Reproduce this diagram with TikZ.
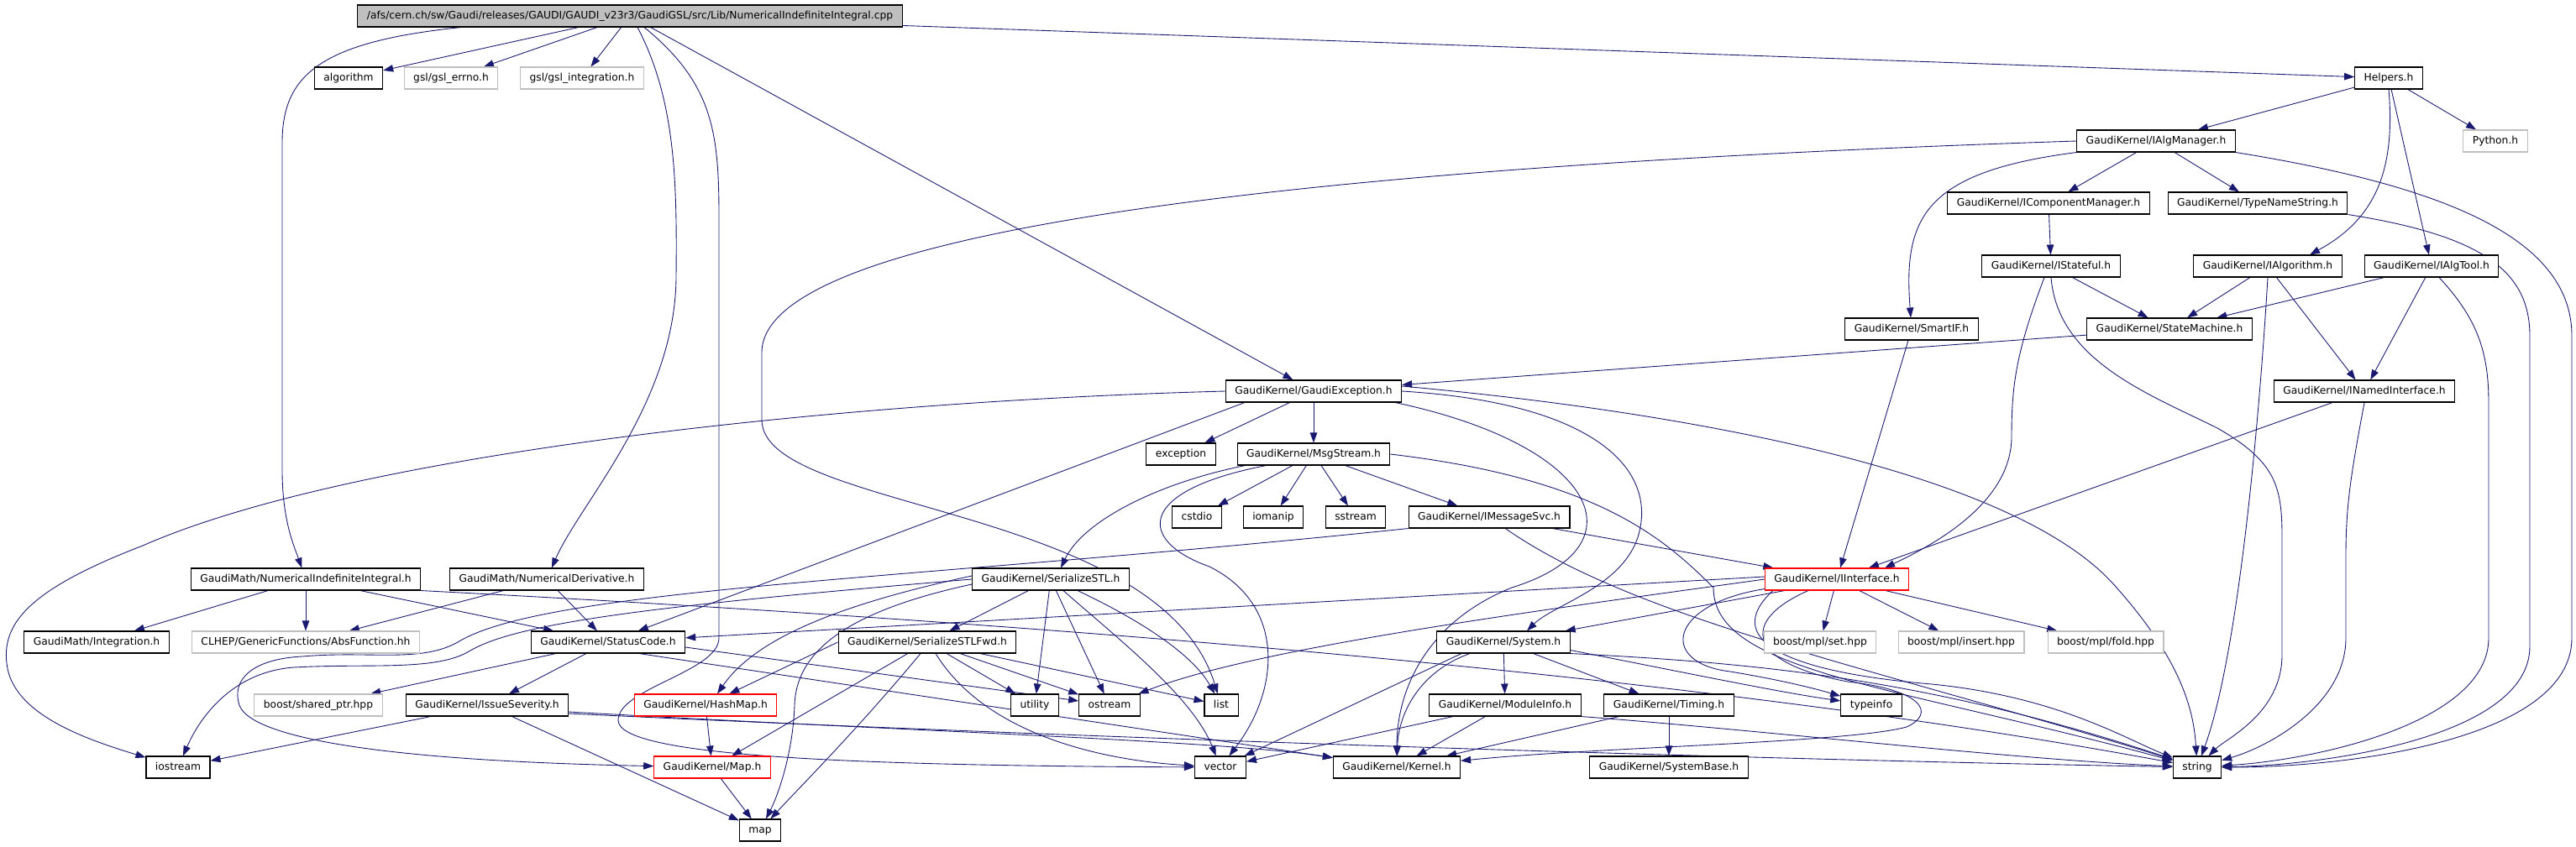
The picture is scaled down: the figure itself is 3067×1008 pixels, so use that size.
\documentclass[tikz,border=0pt]{standalone}
\usepackage{fontspec}
\setmainfont{DejaVu Sans}
\usetikzlibrary{arrows.meta,calc}
\definecolor{DoxEdge}{HTML}{191970}
\definecolor{DoxGrey}{HTML}{BFBFBF}
\definecolor{DoxRed}{HTML}{FF0000}
\pgfdeclarelayer{back}
\pgfdeclarelayer{wires}
\pgfsetlayers{back,wires,main}
\tikzset{
  inc/.style={draw=black,fill=white,line width=0.6pt,inner xsep=0.22cm,inner ysep=0pt,minimum height=0.52cm,text height=5.3pt,text depth=1.5pt,font=\fontsize{7}{8}\selectfont},
  extinc/.style={inc,draw=DoxGrey},
  badinc/.style={inc,draw=DoxRed},
  dep/.style={DoxEdge,line width=0.5pt,-{Triangle[length=0.24cm,width=0.17cm]}}
}
\begin{document}
\begin{tikzpicture}[x=0.02cm,y=-0.02cm]
\useasboundingbox (0,0) rectangle (3067,1008);
\begin{pgfonlayer}{back}
\fill[white] (0,0) rectangle (3067,1008);
\end{pgfonlayer}
\node[inc,fill=DoxGrey] (root) at (750,19) {/afs/cern.ch/sw/Gaudi/releases/GAUDI/GAUDI\_v23r3/GaudiGSL/src/Lib/NumericalIndefiniteIntegral.cpp};
\node[inc] (algorithm) at (415,93) {algorithm};
\node[extinc] (gslerrno) at (537,93) {gsl/gsl\_errno.h};
\node[extinc] (gslint) at (693,93) {gsl/gsl\_integration.h};
\node[inc] (helpers) at (2844,93) {Helpers.h};
\node[inc] (ialgmgr) at (2567,168) {GaudiKernel/IAlgManager.h};
\node[extinc] (python) at (2971,168) {Python.h};
\node[inc] (icompmgr) at (2439,242) {GaudiKernel/IComponentManager.h};
\node[inc] (typename) at (2688,242) {GaudiKernel/TypeNameString.h};
\node[inc] (istateful) at (2442,317) {GaudiKernel/IStateful.h};
\node[inc] (ialgo) at (2700,317) {GaudiKernel/IAlgorithm.h};
\node[inc] (ialgtool) at (2895,317) {GaudiKernel/IAlgTool.h};
\node[inc] (smartif) at (2276,392) {GaudiKernel/SmartIF.h};
\node[inc] (statemach) at (2583,392) {GaudiKernel/StateMachine.h};
\node[inc] (gexc) at (1564,466) {GaudiKernel/GaudiException.h};
\node[inc] (inamed) at (2815,466) {GaudiKernel/INamedInterface.h};
\node[inc] (exception) at (1406,541) {exception};
\node[inc] (msgstream) at (1564,541) {GaudiKernel/MsgStream.h};
\node[inc] (cstdio) at (1425,616) {cstdio};
\node[inc] (iomanip) at (1516,616) {iomanip};
\node[inc] (sstream) at (1614,616) {sstream};
\node[inc] (imsgsvc) at (1773,616) {GaudiKernel/IMessageSvc.h};
\node[inc] (numint) at (364,690) {GaudiMath/NumericalIndefiniteIntegral.h};
\node[inc] (numder) at (651,690) {GaudiMath/NumericalDerivative.h};
\node[inc] (serstl) at (1251,690) {GaudiKernel/SerializeSTL.h};
\node[badinc] (iiface) at (2187,690) {GaudiKernel/IInterface.h};
\node[inc] (integration) at (115,765) {GaudiMath/Integration.h};
\node[extinc] (absfunc) at (364,765) {CLHEP/GenericFunctions/AbsFunction.hh};
\node[inc] (statuscode) at (724,765) {GaudiKernel/StatusCode.h};
\node[inc] (serfwd) at (1104,765) {GaudiKernel/SerializeSTLFwd.h};
\node[inc] (system) at (1790,765) {GaudiKernel/System.h};
\node[extinc] (mplset) at (2167,765) {boost/mpl/set.hpp};
\node[extinc] (mplinsert) at (2335,765) {boost/mpl/insert.hpp};
\node[extinc] (mplfold) at (2507,765) {boost/mpl/fold.hpp};
\node[extinc] (sharedptr) at (379,840) {boost/shared\_ptr.hpp};
\node[inc] (issuesev) at (580,840) {GaudiKernel/IssueSeverity.h};
\node[badinc] (hashmap) at (840,840) {GaudiKernel/HashMap.h};
\node[inc] (utility) at (1232,840) {utility};
\node[inc] (ostream) at (1321,840) {ostream};
\node[inc] (list) at (1454,840) {list};
\node[inc] (modinfo) at (1792,840) {GaudiKernel/ModuleInfo.h};
\node[inc] (timing) at (1987,840) {GaudiKernel/Timing.h};
\node[inc] (typeinfo) at (2228,840) {typeinfo};
\node[inc] (iostream) at (212,914) {iostream};
\node[badinc] (gmap) at (848,914) {GaudiKernel/Map.h};
\node[inc] (vector) at (1453,914) {vector};
\node[inc] (kernel) at (1663,914) {GaudiKernel/Kernel.h};
\node[inc] (sysbase) at (1987,914) {GaudiKernel/SystemBase.h};
\node[inc] (string) at (2616,914) {string};
\node[inc] (stdmap) at (905,989) {map};
\begin{pgfonlayer}{wires}
\draw[dep] (root) -- (algorithm);
\draw[dep] (root) -- (gslerrno);
\draw[dep] (root) -- (gslint);
\draw[dep] (root) -- (helpers);
\draw[dep] (root) -- (gexc);
\draw[dep] ($(root.south)+(-201,0)$) .. controls (380,50) and (336,90) .. (336,170) -- (336,560) .. controls (336,620) and (350,650) .. (numint);
\draw[dep] ($(root.south)+(9,0)$) .. controls (805,120) and (806,220) .. (805,330) .. controls (804,480) and (690,600) .. (numder);
\draw[dep] ($(root.south)+(17,0)$) .. controls (850,100) and (856,160) .. (856,260) -- (856,760) .. controls (856,800) and (736,820) .. (736,858) .. controls (736,900) and (1000,912) .. (vector);
\draw[dep] (helpers) -- (ialgmgr);
\draw[dep] (helpers) -- (python);
\draw[dep] (helpers) -- (ialgtool);
\draw[dep] (helpers.south) .. controls (2852,200) and (2830,260) .. ($(ialgo.north)+(50,0)$);
\draw[dep] (ialgmgr) -- (icompmgr);
\draw[dep] (ialgmgr) -- (typename);
\draw[dep] (ialgmgr.south west) .. controls (2290,205) and (2266,260) .. (smartif);
\draw[dep] (ialgmgr.south east) .. controls (2900,220) and (3062,280) .. (3062,400) -- (3062,760) .. controls (3062,880) and (2800,914) .. (string);
\draw[dep] (ialgmgr.west) .. controls (1500,200) and (907,280) .. (907,420) -- (907,500) .. controls (907,610) and (1380,600) .. (list);
\draw[dep] (icompmgr) -- (istateful);
\draw[dep] (typename.south east) .. controls (2950,280) and (3012,320) .. (3012,400) -- (3012,770) .. controls (3012,880) and (2760,912) .. (string);
\draw[dep] (istateful) -- (statemach);
\draw[dep] ($(istateful.south)+(-8,0)$) .. controls (2400,420) and (2395,460) .. (2395,520) .. controls (2395,600) and (2300,650) .. ($(iiface.north)+(57,0)$);
\draw[dep] (istateful.south) .. controls (2450,430) and (2560,470) .. (2640,510) .. controls (2710,550) and (2717,580) .. (2717,640) -- (2717,780) .. controls (2717,850) and (2650,880) .. (string);
\draw[dep] (ialgo) -- (statemach);
\draw[dep] (ialgo) -- (inamed);
\draw[dep] (ialgo.south) .. controls (2690,500) and (2665,780) .. (string);
\draw[dep] (ialgtool) -- (statemach);
\draw[dep] (ialgtool) -- (inamed);
\draw[dep] ($(ialgtool.south)+(9,0)$) .. controls (2950,380) and (2963,420) .. (2963,480) -- (2963,760) .. controls (2963,860) and (2760,905) .. (string);
\draw[dep] (smartif) -- (iiface);
\draw[dep] (statemach) -- (gexc);
\draw[dep] (inamed) -- (iiface);
\draw[dep] (inamed.south) .. controls (2800,560) and (2793,600) .. (2793,660) -- (2793,760) .. controls (2793,840) and (2700,890) .. (string);
\draw[dep] (gexc.west) .. controls (1000,478) and (420,540) .. (170,650) .. controls (40,700) and (2,740) .. (8,790) .. controls (14,850) and (100,880) .. (iostream);
\draw[dep] (gexc) -- (exception);
\draw[dep] (gexc) -- (msgstream);
\draw[dep] ($(gexc.south west)+(23,0)$) -- (statuscode);
\draw[dep] ($(gexc.south east)+(-8,0)$) .. controls (1900,530) and (1960,650) .. (1800,700) .. controls (1700,740) and (1663,820) .. (kernel);
\draw[dep] (gexc.east) .. controls (1900,480) and (1975,560) .. (1950,640) .. controls (1930,700) and (1850,720) .. ($(system.north)+(28,0)$);
\draw[dep] ($(gexc.east)+(0,-6)$) .. controls (2000,490) and (2400,560) .. (2520,700) .. controls (2600,790) and (2612,850) .. (string);
\draw[dep] (msgstream) -- (cstdio);
\draw[dep] (msgstream) -- (iomanip);
\draw[dep] (msgstream) -- (sstream);
\draw[dep] (msgstream) -- (imsgsvc);
\draw[dep] ($(msgstream.south west)+(10,0)$) .. controls (1380,575) and (1290,620) .. ($(serstl.north)+(12,0)$);
\draw[dep] ($(msgstream.south west)+(35,0)$) .. controls (1350,585) and (1355,645) .. (1440,675) .. controls (1530,720) and (1525,820) .. (vector);
\draw[dep] (msgstream.east) .. controls (1900,570) and (1980,640) .. (2040,700) .. controls (2040,800) and (2250,815) .. (string);
\draw[dep] (imsgsvc) -- (iiface);
\draw[dep] (imsgsvc.south west) .. controls (1100,690) and (650,700) .. (545,765) .. controls (500,790) and (440,775) .. (360,782) .. controls (300,785) and (275,810) .. (285,840) .. controls (295,870) and (400,905) .. (gmap);
\draw[dep] (imsgsvc) .. controls (1950,740) and (2250,800) .. (string);
\draw[dep] (serstl) -- (serfwd);
\draw[dep] (serstl) -- (utility);
\draw[dep] (serstl) -- (ostream);
\draw[dep] ($(serstl.south)+(15,0)$) .. controls (1330,760) and (1420,830) .. (vector);
\draw[dep] ($(serstl.south)+(32,0)$) .. controls (1360,740) and (1420,780) .. (list);
\draw[dep] (serstl.west) .. controls (800,720) and (620,740) .. (560,775) .. controls (520,800) and (440,790) .. (350,795) .. controls (280,800) and (240,850) .. (iostream);
\draw[dep] ($(serstl.west)+(0,-4)$) .. controls (1000,720) and (900,760) .. ($(hashmap.north)+(14,0)$);
\draw[dep] ($(serstl.west)+(0,6)$) .. controls (1000,730) and (948,780) .. (946,840) .. controls (944,900) and (925,950) .. (stdmap);
\draw[dep] (serfwd.west) -- (hashmap);
\draw[dep] (serfwd) -- (gmap);
\draw[dep] ($(serfwd.south)+(-8,0)$) .. controls (1020,870) and (950,940) .. (stdmap);
\draw[dep] ($(serfwd.south)+(10,0)$) .. controls (1170,870) and (1300,905) .. (vector);
\draw[dep] (serfwd) -- (utility);
\draw[dep] (serfwd) -- (ostream);
\draw[dep] (serfwd) -- (list);
\draw[dep] (hashmap) -- (gmap);
\draw[dep] (gmap) -- (stdmap);
\draw[dep] (statuscode) -- (sharedptr);
\draw[dep] (statuscode) -- (issuesev);
\draw[dep] ($(statuscode.east)+(0,6)$) -- (ostream);
\draw[dep] ($(statuscode.south east)+(-55,0)$) -- (kernel);
\draw[dep] (issuesev) -- (iostream);
\draw[dep] (issuesev) -- (stdmap);
\draw[dep] ($(issuesev.east)+(0,8)$) .. controls (1100,872) and (1450,882) .. (kernel);
\draw[dep] ($(issuesev.east)+(0,10)$) .. controls (1300,880) and (2100,905) .. (string);
\draw[dep] (numint) -- (integration);
\draw[dep] (numint) -- (absfunc);
\draw[dep] (numint) -- (statuscode);
\draw[dep] (numint.south east) .. controls (1200,740) and (2000,800) .. (string);
\draw[dep] (numder) -- (absfunc);
\draw[dep] (numder) -- (statuscode);
\draw[dep] (iiface) -- (mplset);
\draw[dep] (iiface) -- (mplinsert);
\draw[dep] (iiface) -- (mplfold);
\draw[dep] ($(iiface.west)+(0,-3)$) -- (statuscode);
\draw[dep] ($(iiface.south west)+(24,0)$) -- (system);
\draw[dep] (iiface.west) .. controls (1850,725) and (1500,770) .. (ostream);
\draw[dep] ($(iiface.south west)+(0,-2)$) .. controls (1985,720) and (1975,790) .. (2060,800) .. controls (2120,810) and (2160,820) .. (typeinfo);
\draw[dep] ($(iiface.south)+(-34,0)$) .. controls (2070,740) and (2080,790) .. (2200,812) .. controls (2290,822) and (2305,850) .. (2270,866) .. controls (2200,885) and (1900,890) .. (kernel);
\draw[dep] ($(iiface.south west)+(10,0)$) .. controls (2050,760) and (2120,800) .. (2300,815) .. controls (2450,830) and (2530,880) .. (string);
\draw[dep] (system) -- (modinfo);
\draw[dep] (system) -- (timing);
\draw[dep] ($(system.south)+(-40,0)$) .. controls (1690,800) and (1665,850) .. (kernel);
\draw[dep] ($(system.south)+(-50,0)$) -- (vector);
\draw[dep] (system.south east) .. controls (2100,790) and (2300,810) .. (string);
\draw[dep] ($(system.south east)+(0,-4)$) .. controls (2000,800) and (2120,825) .. (typeinfo);
\draw[dep] (modinfo) -- (vector);
\draw[dep] (modinfo) -- (kernel);
\draw[dep] (modinfo.south east) .. controls (2100,870) and (2400,905) .. (string);
\draw[dep] (timing) -- (kernel);
\draw[dep] (timing) -- (sysbase);
\end{pgfonlayer}
\end{tikzpicture}
\end{document}
